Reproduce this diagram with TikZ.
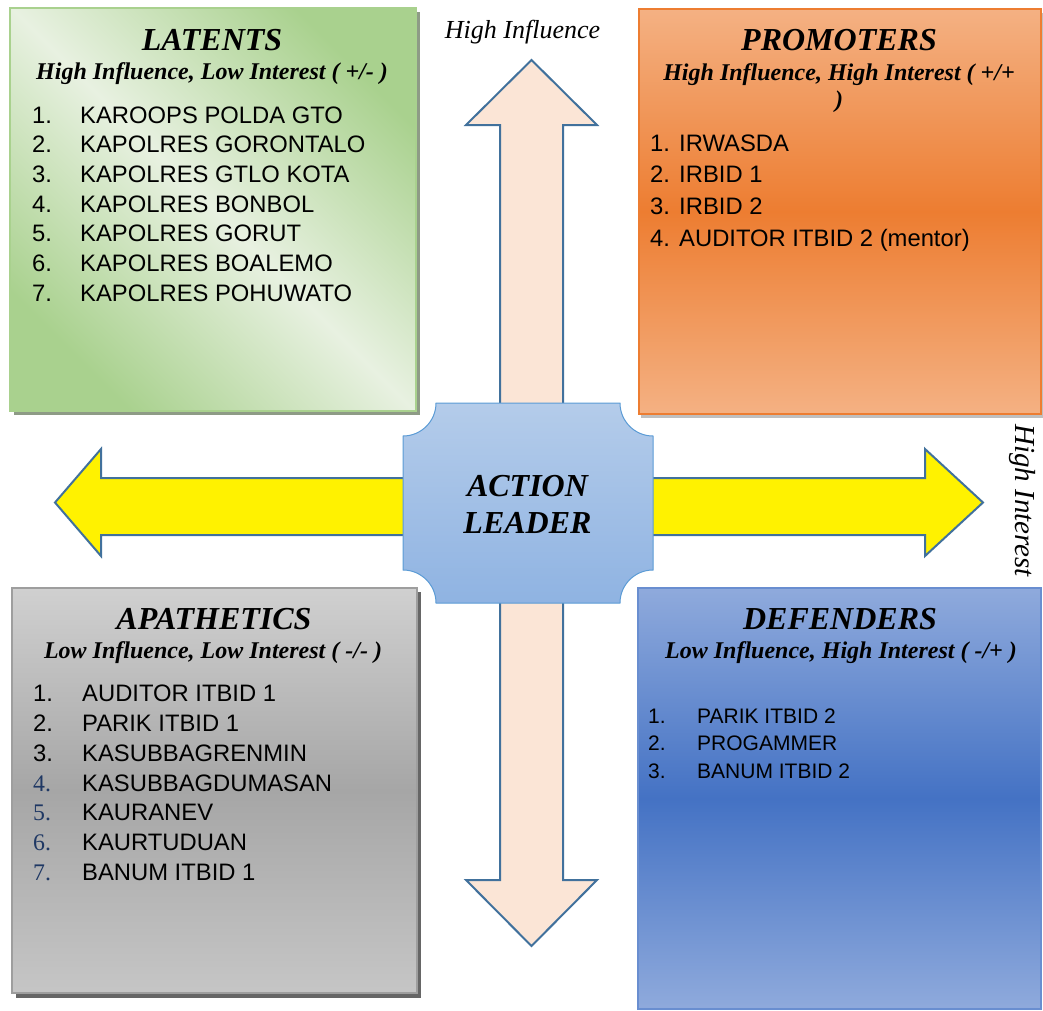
\documentclass[tikz,border=0pt]{standalone}
\usepackage{fontspec}
\setmainfont{Liberation Serif}
\setsansfont{Liberation Sans}
\usepackage{tikz}
\usetikzlibrary{calc}

\definecolor{latdark}{HTML}{A9D18E}
\definecolor{latlight}{HTML}{E8F1E1}
\definecolor{latshadow}{HTML}{8E9B86}
\definecolor{prolight}{HTML}{F4B183}
\definecolor{prodark}{HTML}{ED7D31}
\definecolor{apalight}{HTML}{D0D0D0}
\definecolor{apadark}{HTML}{A6A6A6}
\definecolor{apaline}{HTML}{9E9E9E}
\definecolor{deflight}{HTML}{8FAADC}
\definecolor{defdark}{HTML}{4472C4}
\definecolor{leadtop}{HTML}{B4CCEA}
\definecolor{leadbot}{HTML}{8FB3E2}
\definecolor{leadline}{HTML}{5B9BD5}
\definecolor{arrowline}{HTML}{41719C}
\definecolor{peach}{HTML}{FBE5D6}
\definecolor{numblue}{HTML}{1F3864}

\tikzset{
  quadtitle/.style={font=\fontsize{32}{36}\selectfont\bfseries\itshape, inner sep=0pt, anchor=base},
  quadsub/.style={font=\fontsize{24}{27}\selectfont\bfseries\itshape, inner sep=0pt, anchor=base, align=center},
  numsans/.style={font=\sffamily\fontsize{23.8}{27}\selectfont, inner sep=0pt, anchor=base west},
  numserif/.style={font=\fontsize{23.8}{27}\selectfont, text=numblue, inner sep=0pt, anchor=base west},
  listentry/.style={font=\sffamily\fontsize{23.8}{27}\selectfont, inner sep=0pt, anchor=base west},
  smallentry/.style={font=\sffamily\fontsize{21}{24}\selectfont, inner sep=0pt, anchor=base west},
  leadertext/.style={font=\fontsize{32}{37}\selectfont\bfseries\itshape, inner sep=0pt, anchor=base, align=center},
  axislabel/.style={font=\itshape, inner sep=0pt, anchor=base},
  blockarrow/.style={draw=arrowline, line width=2pt, line join=miter},
}

\begin{document}
\begin{tikzpicture}[x=1pt,y=-1pt]
% page = picture, 1043 x 1010
\useasboundingbox (0,0) rectangle (1043,1010);

% the two double arrows, behind everything
\draw[blockarrow, fill=peach] (531.5,60) -- (597,125) -- (563,125) -- (563,880) -- (597,880)
  -- (531.5,946) -- (466,880) -- (500,880) -- (500,125) -- (466,125) -- cycle;
\draw[blockarrow, fill=yellow] (55,502.5) -- (101,449) -- (101,478) -- (925,478) -- (925,449)
  -- (983,502.5) -- (925,556) -- (925,535) -- (101,535) -- (101,556) -- cycle;

% axis labels
\node[axislabel, font=\fontsize{26}{30}\selectfont\itshape] (hiinfluence) at (522.5,38) {High Influence};
\node[axislabel, font=\fontsize{29}{33}\selectfont\itshape, rotate=-90] (hiinterest) at (1015,500.5) {High Interest};

% LATENTS (top left)
\fill[latshadow] (14,12) rectangle (420,415);
\shadedraw[draw=latdark, line width=1.5pt, top color=latdark, bottom color=latdark,
  middle color=latlight, shading angle=-45] (10,8) rectangle (416,411);
\node[quadtitle] (latents) at (212,50) {LATENTS};
\node[quadsub] (latentssub) at (212,79) {High Influence, Low Interest ( +/- )};
\foreach \name [count=\i] in {KAROOPS POLDA GTO, KAPOLRES GORONTALO, KAPOLRES GTLO KOTA,
  KAPOLRES BONBOL, KAPOLRES GORUT, KAPOLRES BOALEMO, KAPOLRES POHUWATO}
{
  \node[numsans] (latnum\i) at (32,{123+29.7*(\i-1)}) {\i.};
  \node[listentry] (lat\i) at (80,{123+29.7*(\i-1)}) {\name};
}

% PROMOTERS (top right)
\fill[black!25] (641,13) rectangle (1043,418);
\shadedraw[draw=prodark, line width=1.5pt, top color=prolight, bottom color=prolight,
  middle color=prodark] (639,9) rectangle (1041,414);
\node[quadtitle] (promoters) at (839,50) {PROMOTERS};
% base of a two-line node is the last line
\node[quadsub] (promoterssub) at (839,107) {High Influence, High Interest ( +/+\\)};
\foreach \name [count=\i] in {IRWASDA, IRBID 1, IRBID 2, AUDITOR ITBID 2 (mentor)}
{
  \node[numsans] (pronum\i) at (650,{151+31.9*(\i-1)}) {\i.};
  \node[listentry] (pro\i) at (679,{151+31.9*(\i-1)}) {\name};
}

% APATHETICS (bottom left)
\fill[black!60] (16,592) rectangle (421,998);
\shadedraw[draw=apaline, line width=1.5pt, top color=apalight, bottom color=apalight!95!black,
  middle color=apadark] (12,588) rectangle (417,993);
\node[quadtitle] (apathetics) at (214,629) {APATHETICS};
\node[quadsub] (apatheticssub) at (213,658) {Low Influence, Low Interest ( -/- )};
\foreach \name [count=\i] in {AUDITOR ITBID 1, PARIK ITBID 1, KASUBBAGRENMIN,
  KASUBBAGDUMASAN, KAURANEV, KAURTUDUAN, BANUM ITBID 1}
{
  \ifnum\i<4
    \node[numsans] (apanum\i) at (33,{701.7+29.8*(\i-1)}) {\i.};
  \else
    \node[numserif] (apanum\i) at (33,{701.7+29.8*(\i-1)}) {\i.};
  \fi
  \node[listentry] (apa\i) at (82,{701.7+29.8*(\i-1)}) {\name};
}

% DEFENDERS (bottom right)
\shadedraw[draw=defdark!80, line width=1.5pt, top color=deflight, bottom color=deflight,
  middle color=defdark] (638,588) rectangle (1041,1009);
\node[quadtitle] (defenders) at (840,629) {DEFENDERS};
\node[quadsub] (defenderssub) at (841,658) {Low Influence, High Interest ( -/+ )};
\foreach \name [count=\i] in {PARIK ITBID 2, PROGAMMER, BANUM ITBID 2}
{
  \node[smallentry] (defnum\i) at (648,{723.3+27.5*(\i-1)}) {\i.};
  \node[smallentry] (def\i) at (697,{723.3+27.5*(\i-1)}) {\name};
}

% centre plaque
\shadedraw[draw=leadline, line width=1pt, top color=leadtop, bottom color=leadbot]
  (436,403) -- (620,403) .. controls (620,421.2) and (634.8,436) .. (653,436)
  -- (653,570) .. controls (634.8,570) and (620,584.8) .. (620,603)
  -- (436,603) .. controls (436,584.8) and (421.2,570) .. (403,570)
  -- (403,436) .. controls (421.2,436) and (436,421.2) .. (436,403) -- cycle;
\node[leadertext] (leader) at (527.5,533) {ACTION\\LEADER};

\end{tikzpicture}
\end{document}
